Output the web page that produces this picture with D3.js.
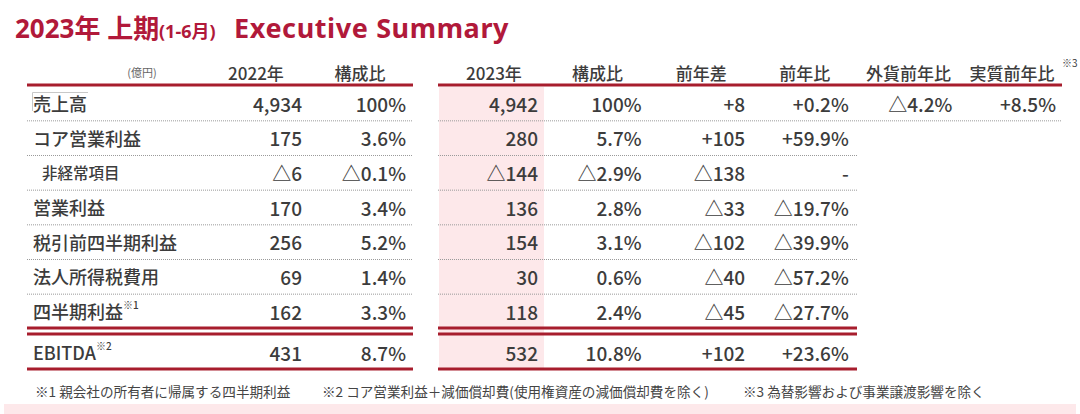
<!DOCTYPE html>
<html><head><meta charset="utf-8">
<script src="https://cdn.jsdelivr.net/npm/d3@7"></script>
<style>
html,body{margin:0;padding:0;background:#fff;}
svg{display:block;font-family:"Noto Sans CJK JP","Noto Sans",sans-serif;}
</style></head>
<body><svg id="c" width="1080" height="414"></svg>
<script>
// ---- data ----
const rowLabels = ["売上高","コア営業利益","非経常項目","営業利益","税引前四半期利益","法人所得税費用","四半期利益","EBITDA"];
const rowNotes  = ["","","","","","","※1","※2"];
const sales2022 = [4934,175,-6,170,256,69,162,431];
const ratio2022 = [100,3.6,-0.1,3.4,5.2,1.4,3.3,8.7];
const sales2023 = [4942,280,-144,136,154,30,118,532];
const ratio2023 = [100,5.7,-2.9,2.8,3.1,0.6,2.4,10.8];
const diffYoY   = [8,105,-138,-33,-102,-40,-45,102];
const rateYoY   = [0.2,59.9,null,-19.7,-39.9,-57.2,-27.7,23.6];
const fxYoY     = [-4.2];
const realYoY   = [8.5];
const leftHeaders  = ["2022年","構成比"];
const rightHeaders = ["2023年","構成比","前年差","前年比","外貨前年比","実質前年比"];
const footnotes = ["※1 親会社の所有者に帰属する四半期利益","※2 コア営業利益＋減価償却費(使用権資産の減価償却費を除く)","※3 為替影響および事業譲渡影響を除く"];

// ---- formatters ----
const tri = "△";
const fmtNum = v => v == null ? "-" : (v < 0 ? tri : "") + d3.format(",")(Math.abs(v));
const fmtSigned = v => v == null ? "-" : (v < 0 ? tri : "+") + d3.format(",")(Math.abs(v));
const fmtPct = v => v == null ? "-" : (v < 0 ? tri : "") + (Math.abs(v) === 100 ? "100" : d3.format(".1f")(Math.abs(v))) + "%";
const fmtSignedPct = v => v == null ? "-" : (v < 0 ? tri : "+") + d3.format(".1f")(Math.abs(v)) + "%";

const svg = d3.select("#c");
const RED = "#a71d2d", TITLE = "#b1193a", TXT = "#3c3c3c";

// ---- scales ----
const y = d3.scalePoint().domain(d3.range(7)).range([103, 311]);
const yE = 352;
const rowY = i => i < 7 ? y(i) : yE;
const xL = d3.scalePoint().domain(leftHeaders.map((d,i)=>i)).range([302, 406]);
const xR = d3.scalePoint().domain(rightHeaders.map((d,i)=>i)).range([538, 1056]);

// ---- title ----
const tf = "'Noto Sans','Noto Sans CJK JP',sans-serif";
svg.append("text").attr("x", 15).attr("y", 38).attr("fill", TITLE).attr("font-weight", 700)
  .attr("font-family", tf).attr("font-size", 26).text("2023年 上期");
svg.append("text").attr("x", 159).attr("y", 38).attr("fill", TITLE).attr("font-weight", 700)
  .attr("font-family", tf).attr("font-size", 18).text("(1-6月)");
svg.append("text").attr("x", 234).attr("y", 38).attr("fill", TITLE).attr("font-weight", 700)
  .attr("font-family", tf).attr("font-size", 27).attr("letter-spacing", 0.6).text("Executive Summary");

// pink column
svg.append("rect").attr("x", 439).attr("y", 87).attr("width", 105).attr("height", 281).attr("fill", "#fde8ea");

// ---- headers ----
svg.append("text").attr("x", 142).attr("y", 72).attr("text-anchor","middle").attr("dominant-baseline","central")
  .attr("font-size", 11).attr("fill", "#666").text("(億円)");
svg.selectAll(".hl").data(leftHeaders).join("text")
  .attr("x", (d,i)=>xL(i)-46).attr("y", 72).attr("text-anchor","middle").attr("dominant-baseline","central")
  .attr("font-size", 17).attr("font-weight", 500).attr("fill", TXT).text(d=>d);
svg.selectAll(".hr").data(rightHeaders).join("text")
  .attr("x", (d,i)=>xR(i)-44).attr("y", 72).attr("text-anchor","middle").attr("dominant-baseline","central")
  .attr("font-size", 17).attr("font-weight", 500).attr("fill", TXT).text(d=>d);
svg.append("text").attr("x", 1062).attr("y", 67).attr("font-size", 10).attr("fill", TXT).text("※3");

// ---- lines ----
function hline(x1, x2, yy, opts) {
  const l = svg.append("line").attr("x1", x1).attr("x2", x2).attr("y1", yy).attr("y2", yy);
  Object.entries(opts).forEach(([k,v]) => l.attr(k, v));
}
const redLine = {stroke: RED, "stroke-width": 3};
const dotLine = {stroke: "#9a9a9a", "stroke-width": 1, "stroke-dasharray": "1,1"};
hline(27, 413, 85, redLine);
hline(438, 1062, 85, redLine);
d3.range(6).forEach(i => {
  const yy = (y(i) + y(i+1)) / 2 + 0.5;
  hline(27, 413, yy, dotLine);
  hline(438, i === 0 ? 1062 : 857, yy, dotLine);
});
[328, 334, 369].forEach(yy => { hline(27, 413, yy, redLine); hline(438, 857, yy, redLine); });

// selection box artifact around 売上高
svg.append("path").attr("d", "M32.5,111 V92.5 H88").attr("fill","none").attr("stroke","#c8c8c8").attr("stroke-width",1);

// ---- row labels ----
const lab = svg.selectAll(".lab").data(rowLabels).join("text")
  .attr("x", (d,i)=> i === 2 ? 42 : 33).attr("y", (d,i)=>rowY(i)).attr("dominant-baseline","central")
  .attr("font-size", (d,i)=> i === 2 ? 15.5 : 18).attr("font-weight", 500).attr("fill", TXT);
lab.append("tspan").text(d=>d);
lab.append("tspan").attr("font-size", 10).attr("dy", -7).text((d,i)=>rowNotes[i]);

// ---- values ----
function col(values, fmt, xpos) {
  svg.append("g").selectAll("text").data(values).join("text")
    .attr("x", xpos).attr("y", (d,i)=>rowY(i)).attr("text-anchor","end").attr("dominant-baseline","central")
    .attr("font-size", 19).attr("font-weight", 500).attr("fill", TXT).text(fmt);
}
col(sales2022, fmtNum, xL(0));
col(ratio2022, fmtPct, xL(1));
col(sales2023, fmtNum, xR(0));
col(ratio2023, fmtPct, xR(1));
col(diffYoY, fmtSigned, xR(2));
col(rateYoY, fmtSignedPct, xR(3));
col(fxYoY, fmtSignedPct, xR(4));
col(realYoY, fmtSignedPct, xR(5));

// ---- footnotes ----
const fx = [35, 322, 743];
svg.selectAll(".fn").data(footnotes).join("text")
  .attr("x", (d,i)=>fx[i]).attr("y", 391).attr("dominant-baseline","central")
  .attr("font-size", 13.6).attr("fill", "#444").text(d=>d);

// bottom pink band
svg.append("rect").attr("x", 4).attr("y", 404).attr("width", 1072).attr("height", 10).attr("fill", "#fde8ea");
</script></body></html>
